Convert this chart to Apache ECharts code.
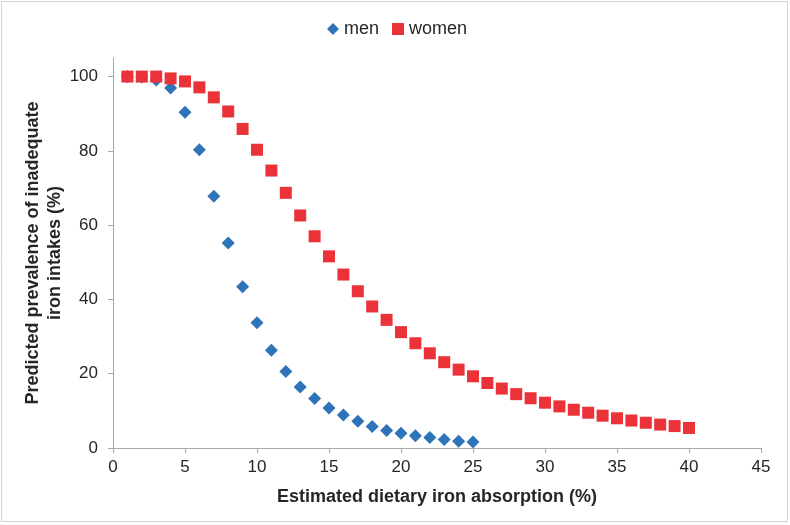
<!DOCTYPE html>
<html>
<head>
<meta charset="utf-8">
<script src="https://cdn.jsdelivr.net/npm/echarts@6/dist/echarts.min.js"></script>
<style>
html,body{margin:0;padding:0;background:#fff;}
#chart{width:790px;height:525px;}
</style>
</head>
<body>
<div id="chart"></div>
<script>
// Data
const absorption = [1,2,3,4,5,6,7,8,9,10,11,12,13,14,15,16,17,18,19,20,21,22,23,24,25,26,27,28,29,30,31,32,33,34,35,36,37,38,39,40];
const menValues = [100,99.9,99.1,96.9,90.4,80.3,67.8,55.2,43.4,33.7,26.3,20.6,16.4,13.3,10.8,8.9,7.2,5.8,4.7,4.0,3.3,2.8,2.3,1.8,1.6];
const womenValues = [100,100,100,99.5,98.7,97.1,94.4,90.6,85.9,80.3,74.7,68.7,62.6,57.0,51.6,46.7,42.2,38.1,34.5,31.2,28.2,25.5,23.1,21.1,19.3,17.5,16.0,14.5,13.4,12.2,11.2,10.3,9.5,8.7,8.0,7.4,6.8,6.3,5.9,5.4];
const xTicks = [0,5,10,15,20,25,30,35,40,45];
const yTicks = [0,20,40,60,80,100];

const menData = menValues.map((v, i) => [absorption[i], v]);
const womenData = womenValues.map((v, i) => [absorption[i], v]);

const chart = echarts.init(document.getElementById('chart'), null, {renderer: 'canvas'});
const font = 'Liberation Sans, Arial, Helvetica, sans-serif';
const axisColor = '#a8a8a8';

chart.setOption({
  animation: false,
  backgroundColor: '#ffffff',
  textStyle: {fontFamily: font},
  graphic: [{
    type: 'rect',
    shape: {x: 1.5, y: 1.5, width: 786, height: 520},
    style: {fill: 'none', stroke: '#d4d4d4', lineWidth: 1},
    silent: true,
    z: -10
  }],
  legend: {
    left: 322,
    top: 15,
    itemWidth: 12,
    itemHeight: 12,
    itemGap: 13,
    textStyle: {fontSize: 18, color: '#262626', fontFamily: font},
    data: [
      {name: 'men', icon: 'diamond'},
      {name: 'women', icon: 'rect'}
    ]
  },
  grid: {left: 113, right: 29, top: 58, bottom: 77, containLabel: false},
  xAxis: {
    type: 'value',
    min: 0,
    max: 45,
    interval: 5,
    name: 'Estimated dietary iron absorption (%)',
    nameLocation: 'middle',
    nameGap: 40,
    nameMoveOverlap: false,
    nameTextStyle: {fontSize: 18, fontWeight: 'bold', color: '#262626', fontFamily: font},
    axisLine: {lineStyle: {color: axisColor, width: 1}},
    axisTick: {show: true, length: 5, lineStyle: {color: axisColor}, customValues: xTicks},
    axisLabel: {fontSize: 17, color: '#262626', margin: 11, customValues: xTicks},
    splitLine: {show: false}
  },
  yAxis: {
    type: 'value',
    min: 0,
    max: 105,
    interval: 20,
    name: 'Predicted prevalence of inadequate\niron intakes (%)',
    nameLocation: 'middle',
    nameGap: 47,
    nameMoveOverlap: false,
    nameTextStyle: {fontSize: 18, fontWeight: 'bold', color: '#262626', lineHeight: 22, fontFamily: font},
    axisLine: {show: true, lineStyle: {color: axisColor, width: 1}},
    axisTick: {show: true, length: 5, lineStyle: {color: axisColor}, customValues: yTicks},
    axisLabel: {fontSize: 17, color: '#262626', margin: 15, customValues: yTicks},
    splitLine: {show: false}
  },
  series: [
    {
      name: 'men',
      type: 'scatter',
      symbol: 'diamond',
      symbolSize: 13,
      itemStyle: {color: '#2e74b8', opacity: 1},
      data: menData
    },
    {
      name: 'women',
      type: 'scatter',
      symbol: 'rect',
      symbolSize: 12,
      itemStyle: {color: '#ec3239', opacity: 1},
      data: womenData
    }
  ]
});
</script>
</body>
</html>
